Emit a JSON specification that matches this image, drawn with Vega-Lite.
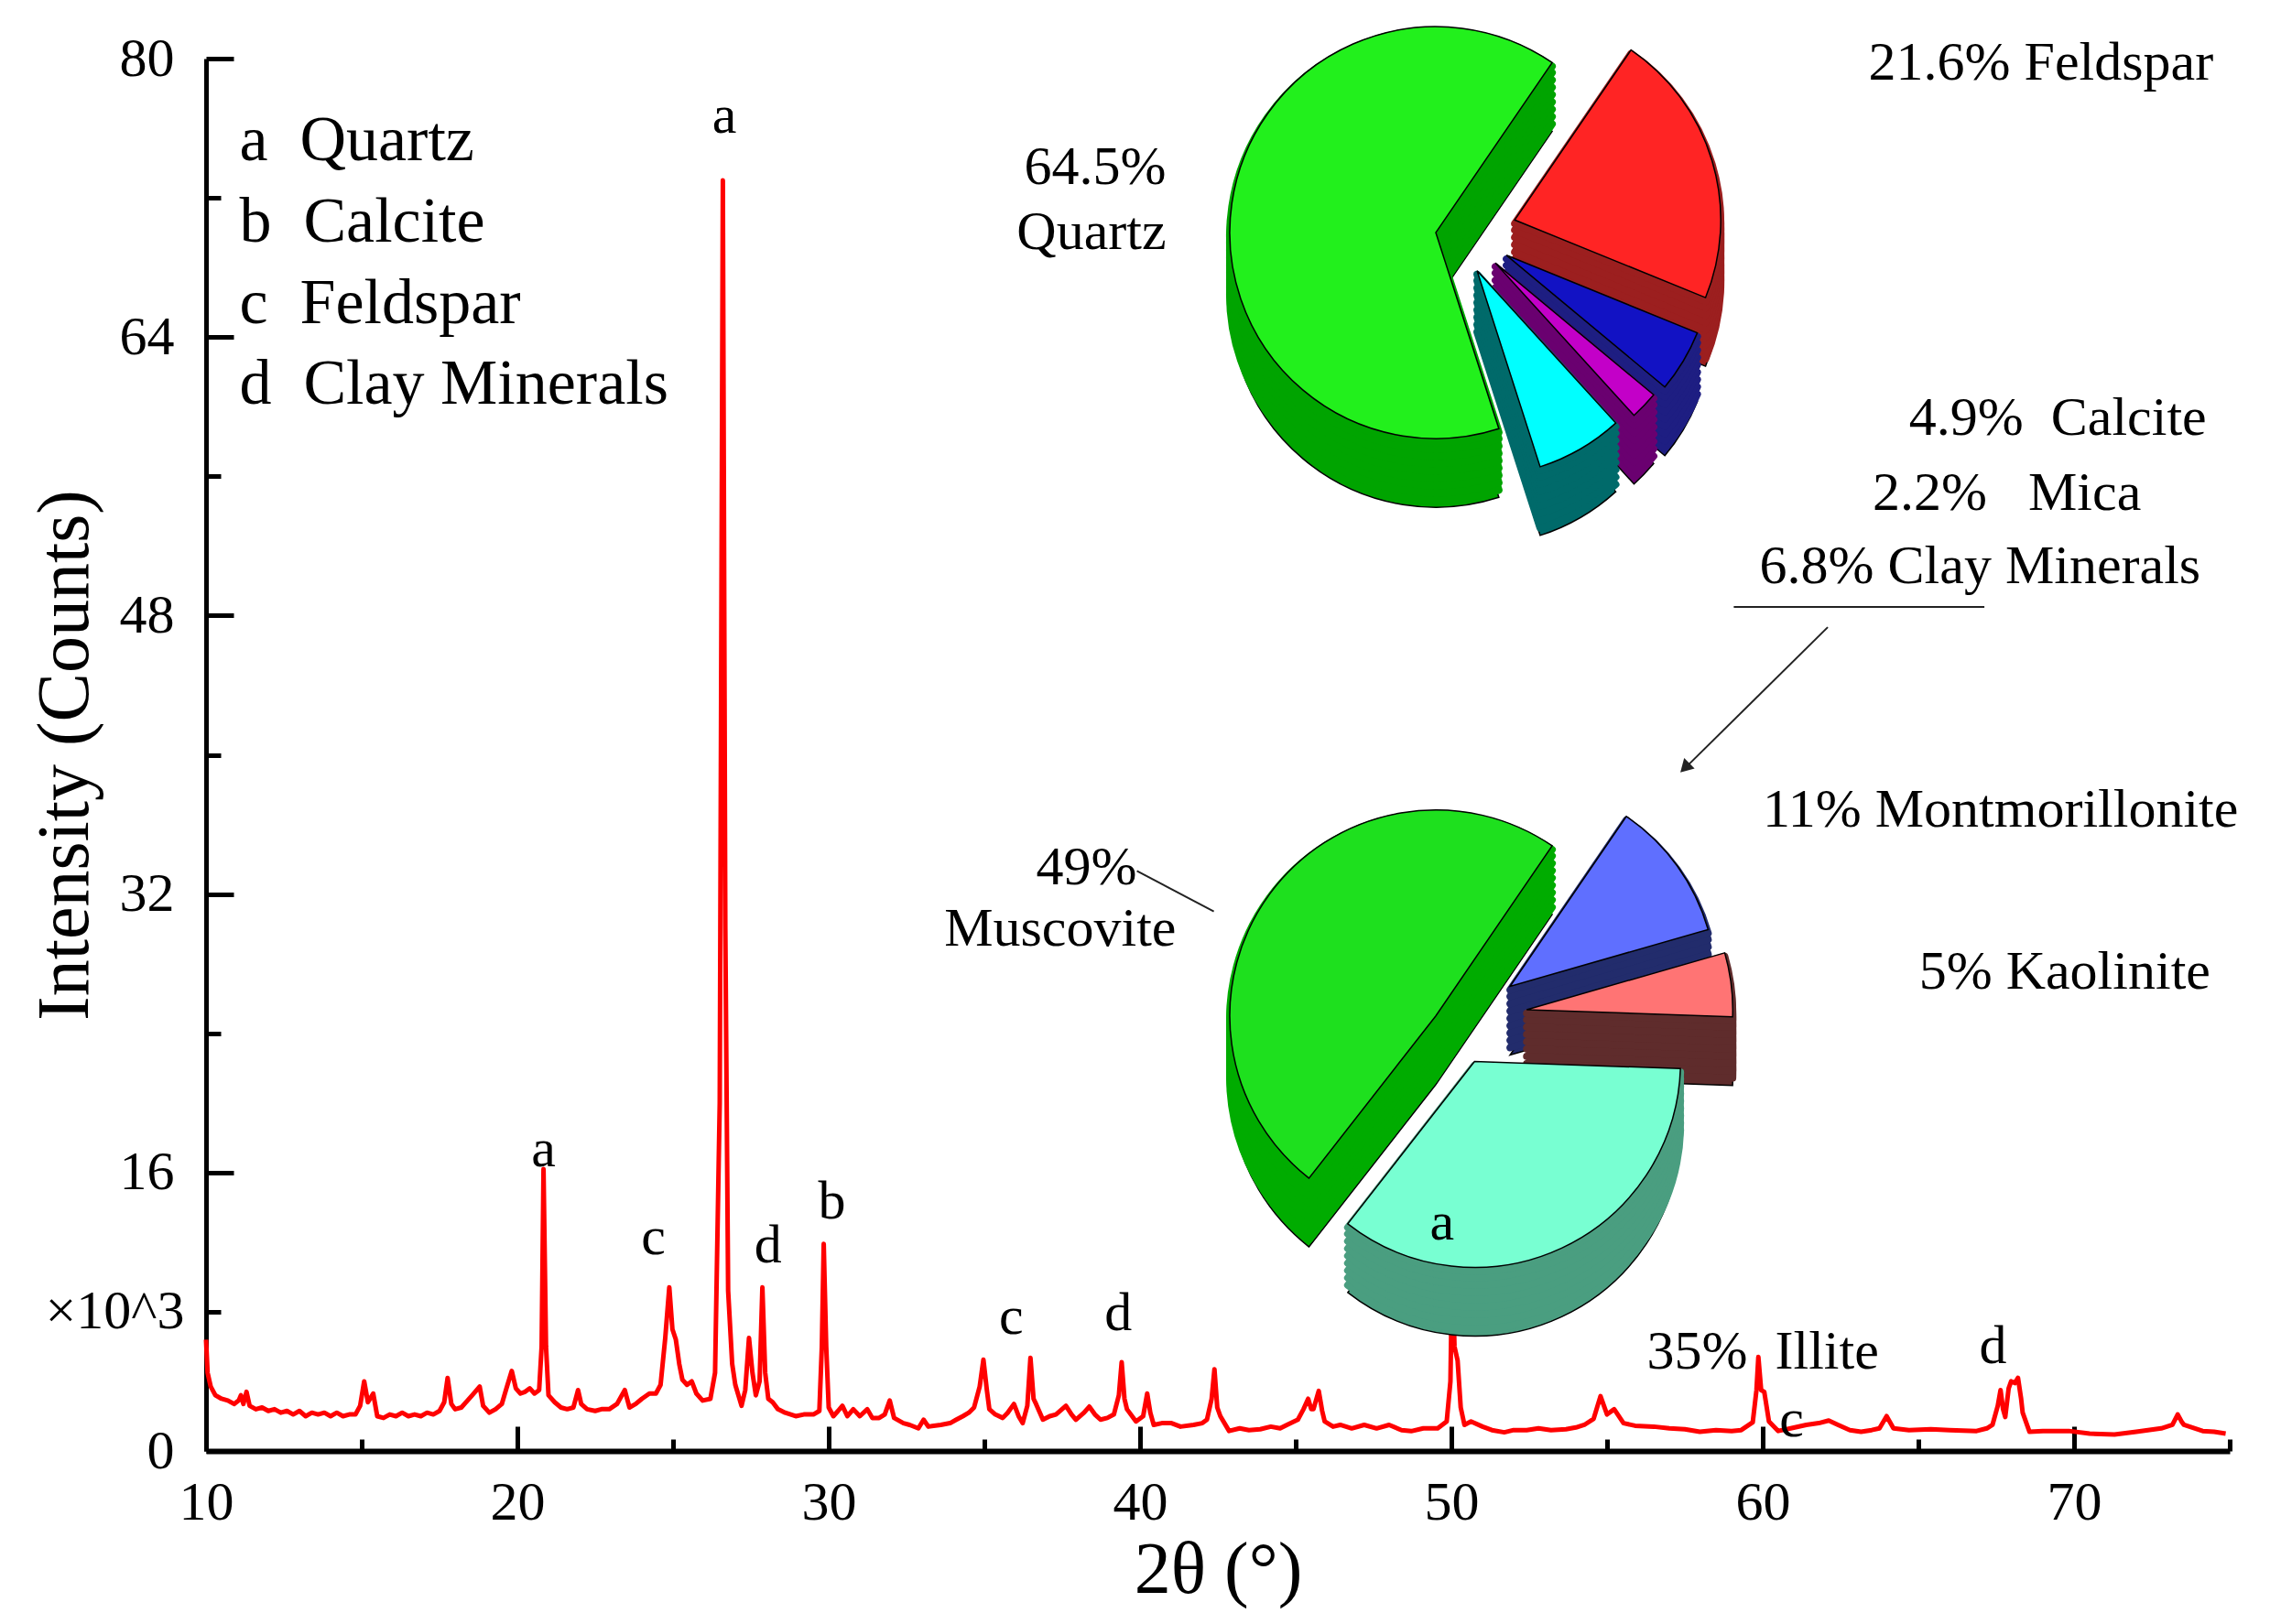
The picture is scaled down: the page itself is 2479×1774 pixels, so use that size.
{
  "$schema": "https://vega.github.io/schema/vega-lite/v6.json",
  "autosize": {"type": "none"},
  "padding": {"left": 225, "top": 64, "right": 44, "bottom": 189},
  "width": 2210,
  "height": 1521,
  "background": "white",
  "config": {
    "font": "Liberation Serif",
    "view": {"stroke": null},
    "text": {"font": "Liberation Serif", "color": "black"}
  },
  "datasets": {
    "spectrum": [
      {"two_theta": 10.0, "intensity": 6.4}, {"two_theta": 10.05, "intensity": 4.5}, {"two_theta": 10.15, "intensity": 3.7},
      {"two_theta": 10.3, "intensity": 3.2}, {"two_theta": 10.5, "intensity": 3.0}, {"two_theta": 10.7, "intensity": 2.9},
      {"two_theta": 10.9, "intensity": 2.7}, {"two_theta": 11.05, "intensity": 2.9}, {"two_theta": 11.12, "intensity": 3.2},
      {"two_theta": 11.2, "intensity": 2.7}, {"two_theta": 11.3, "intensity": 3.4}, {"two_theta": 11.4, "intensity": 2.6},
      {"two_theta": 11.6, "intensity": 2.4}, {"two_theta": 11.8, "intensity": 2.5}, {"two_theta": 12.0, "intensity": 2.3},
      {"two_theta": 12.2, "intensity": 2.4}, {"two_theta": 12.4, "intensity": 2.2}, {"two_theta": 12.6, "intensity": 2.3},
      {"two_theta": 12.8, "intensity": 2.1}, {"two_theta": 13.0, "intensity": 2.3}, {"two_theta": 13.2, "intensity": 2.0},
      {"two_theta": 13.4, "intensity": 2.2}, {"two_theta": 13.6, "intensity": 2.1}, {"two_theta": 13.8, "intensity": 2.2},
      {"two_theta": 14.0, "intensity": 2.0}, {"two_theta": 14.2, "intensity": 2.2}, {"two_theta": 14.4, "intensity": 2.0},
      {"two_theta": 14.6, "intensity": 2.1}, {"two_theta": 14.8, "intensity": 2.1}, {"two_theta": 14.95, "intensity": 2.6},
      {"two_theta": 15.08, "intensity": 4.0}, {"two_theta": 15.2, "intensity": 2.8}, {"two_theta": 15.37, "intensity": 3.3},
      {"two_theta": 15.5, "intensity": 2.0}, {"two_theta": 15.7, "intensity": 1.9}, {"two_theta": 15.9, "intensity": 2.1},
      {"two_theta": 16.1, "intensity": 2.0}, {"two_theta": 16.3, "intensity": 2.2}, {"two_theta": 16.5, "intensity": 2.0},
      {"two_theta": 16.7, "intensity": 2.1}, {"two_theta": 16.9, "intensity": 2.0}, {"two_theta": 17.1, "intensity": 2.2},
      {"two_theta": 17.3, "intensity": 2.1}, {"two_theta": 17.5, "intensity": 2.3}, {"two_theta": 17.65, "intensity": 2.8},
      {"two_theta": 17.76, "intensity": 4.2}, {"two_theta": 17.88, "intensity": 2.7}, {"two_theta": 18.0, "intensity": 2.4},
      {"two_theta": 18.2, "intensity": 2.5}, {"two_theta": 18.4, "intensity": 2.9}, {"two_theta": 18.55, "intensity": 3.2},
      {"two_theta": 18.79, "intensity": 3.7}, {"two_theta": 18.9, "intensity": 2.6}, {"two_theta": 19.1, "intensity": 2.2},
      {"two_theta": 19.3, "intensity": 2.4}, {"two_theta": 19.5, "intensity": 2.7}, {"two_theta": 19.65, "intensity": 3.6},
      {"two_theta": 19.82, "intensity": 4.6}, {"two_theta": 19.95, "intensity": 3.6}, {"two_theta": 20.1, "intensity": 3.3},
      {"two_theta": 20.25, "intensity": 3.4}, {"two_theta": 20.4, "intensity": 3.6}, {"two_theta": 20.55, "intensity": 3.3},
      {"two_theta": 20.7, "intensity": 3.5}, {"two_theta": 20.78, "intensity": 6.0}, {"two_theta": 20.84, "intensity": 16.2},
      {"two_theta": 20.92, "intensity": 6.0}, {"two_theta": 21.0, "intensity": 3.2}, {"two_theta": 21.2, "intensity": 2.8},
      {"two_theta": 21.4, "intensity": 2.5}, {"two_theta": 21.6, "intensity": 2.4}, {"two_theta": 21.8, "intensity": 2.5},
      {"two_theta": 21.95, "intensity": 3.5}, {"two_theta": 22.05, "intensity": 2.7}, {"two_theta": 22.24, "intensity": 2.4},
      {"two_theta": 22.5, "intensity": 2.3}, {"two_theta": 22.7, "intensity": 2.4}, {"two_theta": 22.95, "intensity": 2.4},
      {"two_theta": 23.2, "intensity": 2.7}, {"two_theta": 23.45, "intensity": 3.5}, {"two_theta": 23.6, "intensity": 2.5},
      {"two_theta": 23.8, "intensity": 2.7}, {"two_theta": 24.0, "intensity": 3.0}, {"two_theta": 24.24, "intensity": 3.3},
      {"two_theta": 24.45, "intensity": 3.3}, {"two_theta": 24.6, "intensity": 3.8}, {"two_theta": 24.75, "intensity": 6.5},
      {"two_theta": 24.88, "intensity": 9.4}, {"two_theta": 24.98, "intensity": 7.0}, {"two_theta": 25.09, "intensity": 6.4},
      {"two_theta": 25.2, "intensity": 5.0}, {"two_theta": 25.3, "intensity": 4.1}, {"two_theta": 25.45, "intensity": 3.8},
      {"two_theta": 25.6, "intensity": 4.0}, {"two_theta": 25.75, "intensity": 3.3}, {"two_theta": 25.95, "intensity": 2.9},
      {"two_theta": 26.2, "intensity": 3.0}, {"two_theta": 26.35, "intensity": 4.5}, {"two_theta": 26.5, "intensity": 20.0},
      {"two_theta": 26.6, "intensity": 73.0}, {"two_theta": 26.68, "intensity": 30.0}, {"two_theta": 26.77, "intensity": 9.2},
      {"two_theta": 26.9, "intensity": 5.0}, {"two_theta": 27.0, "intensity": 3.8}, {"two_theta": 27.2, "intensity": 2.6},
      {"two_theta": 27.32, "intensity": 3.5}, {"two_theta": 27.44, "intensity": 6.5}, {"two_theta": 27.55, "intensity": 4.5},
      {"two_theta": 27.66, "intensity": 3.2}, {"two_theta": 27.78, "intensity": 4.0}, {"two_theta": 27.87, "intensity": 9.4},
      {"two_theta": 27.96, "intensity": 4.5}, {"two_theta": 28.06, "intensity": 3.0}, {"two_theta": 28.2, "intensity": 2.8},
      {"two_theta": 28.37, "intensity": 2.4}, {"two_theta": 28.6, "intensity": 2.2}, {"two_theta": 28.94, "intensity": 2.0},
      {"two_theta": 29.2, "intensity": 2.1}, {"two_theta": 29.51, "intensity": 2.1}, {"two_theta": 29.7, "intensity": 2.3},
      {"two_theta": 29.78, "intensity": 6.0}, {"two_theta": 29.84, "intensity": 11.9}, {"two_theta": 29.92, "intensity": 6.0},
      {"two_theta": 30.0, "intensity": 2.5}, {"two_theta": 30.15, "intensity": 2.0}, {"two_theta": 30.3, "intensity": 2.3},
      {"two_theta": 30.44, "intensity": 2.6}, {"two_theta": 30.6, "intensity": 2.0}, {"two_theta": 30.79, "intensity": 2.4},
      {"two_theta": 31.0, "intensity": 2.0}, {"two_theta": 31.24, "intensity": 2.4}, {"two_theta": 31.4, "intensity": 1.9},
      {"two_theta": 31.62, "intensity": 1.9}, {"two_theta": 31.8, "intensity": 2.1}, {"two_theta": 31.96, "intensity": 2.9},
      {"two_theta": 32.1, "intensity": 1.9}, {"two_theta": 32.4, "intensity": 1.6}, {"two_theta": 32.6, "intensity": 1.5},
      {"two_theta": 32.88, "intensity": 1.3}, {"two_theta": 33.05, "intensity": 1.8}, {"two_theta": 33.2, "intensity": 1.4},
      {"two_theta": 33.6, "intensity": 1.5}, {"two_theta": 33.9, "intensity": 1.6}, {"two_theta": 34.1, "intensity": 1.8},
      {"two_theta": 34.31, "intensity": 2.0}, {"two_theta": 34.5, "intensity": 2.2}, {"two_theta": 34.67, "intensity": 2.5},
      {"two_theta": 34.85, "intensity": 3.7}, {"two_theta": 34.97, "intensity": 5.25}, {"two_theta": 35.08, "intensity": 3.5},
      {"two_theta": 35.16, "intensity": 2.4}, {"two_theta": 35.35, "intensity": 2.1}, {"two_theta": 35.59, "intensity": 1.9},
      {"two_theta": 35.75, "intensity": 2.2}, {"two_theta": 35.95, "intensity": 2.7}, {"two_theta": 36.1, "intensity": 2.0},
      {"two_theta": 36.23, "intensity": 1.6}, {"two_theta": 36.38, "intensity": 2.6}, {"two_theta": 36.48, "intensity": 5.35},
      {"two_theta": 36.58, "intensity": 3.0}, {"two_theta": 36.66, "intensity": 2.7}, {"two_theta": 36.88, "intensity": 1.8},
      {"two_theta": 37.1, "intensity": 2.0}, {"two_theta": 37.3, "intensity": 2.1}, {"two_theta": 37.62, "intensity": 2.6},
      {"two_theta": 37.8, "intensity": 2.1}, {"two_theta": 37.94, "intensity": 1.8}, {"two_theta": 38.2, "intensity": 2.2},
      {"two_theta": 38.37, "intensity": 2.55}, {"two_theta": 38.55, "intensity": 2.1}, {"two_theta": 38.73, "intensity": 1.8},
      {"two_theta": 38.95, "intensity": 1.9}, {"two_theta": 39.16, "intensity": 2.1}, {"two_theta": 39.32, "intensity": 3.2},
      {"two_theta": 39.41, "intensity": 5.1}, {"two_theta": 39.5, "intensity": 3.0}, {"two_theta": 39.58, "intensity": 2.4},
      {"two_theta": 39.87, "intensity": 1.7}, {"two_theta": 40.1, "intensity": 2.0}, {"two_theta": 40.23, "intensity": 3.3},
      {"two_theta": 40.33, "intensity": 2.2}, {"two_theta": 40.44, "intensity": 1.5}, {"two_theta": 40.7, "intensity": 1.6},
      {"two_theta": 41.01, "intensity": 1.6}, {"two_theta": 41.3, "intensity": 1.4}, {"two_theta": 41.72, "intensity": 1.5},
      {"two_theta": 42.0, "intensity": 1.6}, {"two_theta": 42.15, "intensity": 1.8}, {"two_theta": 42.3, "intensity": 3.0},
      {"two_theta": 42.39, "intensity": 4.7}, {"two_theta": 42.48, "intensity": 2.5}, {"two_theta": 42.58, "intensity": 2.0},
      {"two_theta": 42.86, "intensity": 1.15}, {"two_theta": 43.2, "intensity": 1.3}, {"two_theta": 43.5, "intensity": 1.2},
      {"two_theta": 43.86, "intensity": 1.25}, {"two_theta": 44.2, "intensity": 1.4}, {"two_theta": 44.5, "intensity": 1.3},
      {"two_theta": 44.72, "intensity": 1.5}, {"two_theta": 45.07, "intensity": 1.8}, {"two_theta": 45.25, "intensity": 2.4},
      {"two_theta": 45.4, "intensity": 3.0}, {"two_theta": 45.5, "intensity": 2.4}, {"two_theta": 45.57, "intensity": 2.4},
      {"two_theta": 45.74, "intensity": 3.45}, {"two_theta": 45.85, "intensity": 2.3}, {"two_theta": 45.93, "intensity": 1.7},
      {"two_theta": 46.2, "intensity": 1.4}, {"two_theta": 46.43, "intensity": 1.5}, {"two_theta": 46.8, "intensity": 1.3},
      {"two_theta": 47.2, "intensity": 1.5}, {"two_theta": 47.6, "intensity": 1.3}, {"two_theta": 48.0, "intensity": 1.5},
      {"two_theta": 48.4, "intensity": 1.2}, {"two_theta": 48.71, "intensity": 1.14}, {"two_theta": 49.1, "intensity": 1.3},
      {"two_theta": 49.56, "intensity": 1.3}, {"two_theta": 49.85, "intensity": 1.7}, {"two_theta": 49.97, "intensity": 4.0},
      {"two_theta": 50.03, "intensity": 11.0}, {"two_theta": 50.1, "intensity": 6.0}, {"two_theta": 50.2, "intensity": 5.2},
      {"two_theta": 50.3, "intensity": 2.5}, {"two_theta": 50.42, "intensity": 1.5}, {"two_theta": 50.63, "intensity": 1.7},
      {"two_theta": 51.0, "intensity": 1.4}, {"two_theta": 51.3, "intensity": 1.2}, {"two_theta": 51.7, "intensity": 1.07},
      {"two_theta": 52.0, "intensity": 1.2}, {"two_theta": 52.42, "intensity": 1.2}, {"two_theta": 52.8, "intensity": 1.3},
      {"two_theta": 53.2, "intensity": 1.2}, {"two_theta": 53.68, "intensity": 1.25}, {"two_theta": 54.0, "intensity": 1.35},
      {"two_theta": 54.27, "intensity": 1.5}, {"two_theta": 54.57, "intensity": 1.85}, {"two_theta": 54.79, "intensity": 3.15},
      {"two_theta": 54.9, "intensity": 2.6}, {"two_theta": 55.0, "intensity": 2.1}, {"two_theta": 55.23, "intensity": 2.4},
      {"two_theta": 55.53, "intensity": 1.6}, {"two_theta": 55.9, "intensity": 1.45}, {"two_theta": 56.5, "intensity": 1.4},
      {"two_theta": 57.0, "intensity": 1.3}, {"two_theta": 57.5, "intensity": 1.25}, {"two_theta": 57.98, "intensity": 1.1},
      {"two_theta": 58.5, "intensity": 1.2}, {"two_theta": 59.0, "intensity": 1.15}, {"two_theta": 59.31, "intensity": 1.2},
      {"two_theta": 59.68, "intensity": 1.65}, {"two_theta": 59.8, "intensity": 3.5}, {"two_theta": 59.86, "intensity": 5.4},
      {"two_theta": 59.95, "intensity": 3.5}, {"two_theta": 60.05, "intensity": 3.4}, {"two_theta": 60.2, "intensity": 1.7},
      {"two_theta": 60.5, "intensity": 1.15}, {"two_theta": 60.9, "intensity": 1.3}, {"two_theta": 61.4, "intensity": 1.5},
      {"two_theta": 61.8, "intensity": 1.6}, {"two_theta": 62.12, "intensity": 1.75}, {"two_theta": 62.42, "intensity": 1.5},
      {"two_theta": 62.8, "intensity": 1.2}, {"two_theta": 63.16, "intensity": 1.1}, {"two_theta": 63.5, "intensity": 1.2},
      {"two_theta": 63.75, "intensity": 1.3}, {"two_theta": 63.98, "intensity": 2.0}, {"two_theta": 64.2, "intensity": 1.3},
      {"two_theta": 64.7, "intensity": 1.2}, {"two_theta": 65.4, "intensity": 1.25}, {"two_theta": 66.0, "intensity": 1.2},
      {"two_theta": 66.87, "intensity": 1.15}, {"two_theta": 67.2, "intensity": 1.3}, {"two_theta": 67.38, "intensity": 1.5},
      {"two_theta": 67.55, "intensity": 2.6}, {"two_theta": 67.64, "intensity": 3.5}, {"two_theta": 67.72, "intensity": 2.4},
      {"two_theta": 67.79, "intensity": 1.95}, {"two_theta": 67.9, "intensity": 3.6}, {"two_theta": 67.98, "intensity": 4.0},
      {"two_theta": 68.1, "intensity": 3.9}, {"two_theta": 68.2, "intensity": 4.2}, {"two_theta": 68.3, "intensity": 3.0},
      {"two_theta": 68.35, "intensity": 2.2}, {"two_theta": 68.57, "intensity": 1.1}, {"two_theta": 69.0, "intensity": 1.15},
      {"two_theta": 69.83, "intensity": 1.15}, {"two_theta": 70.5, "intensity": 1.0}, {"two_theta": 71.3, "intensity": 0.95},
      {"two_theta": 72.0, "intensity": 1.1}, {"two_theta": 72.8, "intensity": 1.3}, {"two_theta": 73.16, "intensity": 1.5},
      {"two_theta": 73.33, "intensity": 2.1}, {"two_theta": 73.45, "intensity": 1.7}, {"two_theta": 73.53, "intensity": 1.5},
      {"two_theta": 74.13, "intensity": 1.15}, {"two_theta": 74.5, "intensity": 1.1}, {"two_theta": 74.87, "intensity": 1.0}
    ],
    "peaks": [
      {"x": 26.65, "y": 76.7, "label": "a"},
      {"x": 20.84, "y": 17.3, "label": "a"},
      {"x": 24.37, "y": 12.25, "label": "c"},
      {"x": 28.05, "y": 11.8, "label": "d"},
      {"x": 30.1, "y": 14.3, "label": "b"},
      {"x": 35.86, "y": 7.7, "label": "c"},
      {"x": 39.3, "y": 7.9, "label": "d"},
      {"x": 49.7, "y": 13.1, "label": "a"},
      {"x": 60.93, "y": 1.8, "label": "c"},
      {"x": 67.4, "y": 6.0, "label": "d"}
    ],
    "legend": [
      {"x": 11.07, "y": 75.25, "label": "a \u00a0Quartz"},
      {"x": 11.07, "y": 70.58, "label": "b \u00a0Calcite"},
      {"x": 11.07, "y": 65.92, "label": "c \u00a0Feldspar"},
      {"x": 11.07, "y": 61.25, "label": "d \u00a0Clay Minerals"}
    ],
    "pies": [
      {"pie": "upper", "mineral": "Feldspar", "pct": 21.6, "rank": 1},
      {"pie": "upper", "mineral": "Calcite", "pct": 4.9, "rank": 2},
      {"pie": "upper", "mineral": "Mica", "pct": 2.2, "rank": 3},
      {"pie": "upper", "mineral": "Clay Minerals", "pct": 6.8, "rank": 4},
      {"pie": "upper", "mineral": "Quartz", "pct": 64.5, "rank": 5},
      {"pie": "lower", "mineral": "Montmorillonite", "pct": 11, "rank": 1},
      {"pie": "lower", "mineral": "Kaolinite", "pct": 5, "rank": 2},
      {"pie": "lower", "mineral": "Illite", "pct": 35, "rank": 3},
      {"pie": "lower", "mineral": "Muscovite", "pct": 49, "rank": 4}
    ],
    "pie_labels_left": [
      {"x": 40.84, "y": 73.75, "label": "64.5%"},
      {"x": 40.84, "y": 70.0, "label": "Quartz"},
      {"x": 39.9, "y": 33.5, "label": "49%"},
      {"x": 41.16, "y": 30.0, "label": "Muscovite"}
    ],
    "pie_labels_right": [
      {"x": 63.4, "y": 79.75, "label": "21.6% Feldspar"},
      {"x": 64.7, "y": 59.33, "label": "4.9% \u00a0Calcite"},
      {"x": 63.53, "y": 55.0, "label": "2.2% \u00a0 Mica"},
      {"x": 59.9, "y": 50.83, "label": "6.8% Clay Minerals"},
      {"x": 60.0, "y": 36.83, "label": "11% Montmorillonite"},
      {"x": 65.02, "y": 27.5, "label": "5% Kaolinite"},
      {"x": 56.28, "y": 5.67, "label": "35% \u00a0Illite"}
    ],
    "leaders": [
      {"x": 59.07, "x2": 67.12, "y": 48.5, "y2": 48.5},
      {"x": 62.09, "x2": 57.6, "y": 47.33, "y2": 39.4},
      {"x": 39.9, "x2": 42.37, "y": 33.33, "y2": 31.0}
    ],
    "arrow_tip": [
      {"x": 57.5, "y": 39.25}
    ]
  },
  "layer": [
    {
      "data": {"name": "spectrum"},
      "mark": {"type": "line", "color": "#ff0000", "strokeWidth": 5, "strokeJoin": "round"},
      "encoding": {
        "x": {
          "field": "two_theta", "type": "quantitative",
          "scale": {"domain": [10, 75], "nice": false, "zero": false},
          "title": "2θ (°)",
          "axis": {
            "values": [10, 15, 20, 25, 30, 35, 40, 45, 50, 55, 60, 65, 70, 75],
            "labelExpr": "datum.value % 10 === 0 ? datum.label : ''",
            "grid": false,
            "domainColor": "black", "domainWidth": 6,
            "tickColor": "black", "tickWidth": 5,
            "tickSize": {"condition": {"test": "datum.value % 10 === 0", "value": -27}, "value": -13},
            "labelPadding": 54,
            "labelFont": "Liberation Serif", "labelFontSize": 60, "labelColor": "black",
            "labelFlush": false, "labelOverlap": false, "labelBound": false,
            "titleFont": "Liberation Serif", "titleFontSize": 80, "titleFontWeight": "normal",
            "titleColor": "black", "titleBaseline": "middle", "titleY": 130
          }
        },
        "y": {
          "field": "intensity", "type": "quantitative",
          "scale": {"domain": [0, 80], "nice": false},
          "title": "Intensity (Counts)",
          "axis": {
            "values": [0, 8, 16, 24, 32, 40, 48, 56, 64, 72, 80],
            "labelExpr": "datum.value === 8 ? '×10^3' : (datum.value % 16 === 0 ? datum.label : '')",
            "grid": false,
            "domainColor": "black", "domainWidth": 5,
            "tickColor": "black", "tickWidth": 5,
            "tickSize": {"condition": {"test": "datum.value % 16 === 0", "value": -30}, "value": -16},
            "labelPadding": {"condition": {"test": "datum.value === 8", "value": 40}, "value": 65},
            "labelFont": "Liberation Serif", "labelFontSize": 60, "labelColor": "black",
            "labelFlush": false, "labelOverlap": false, "labelBound": false,
            "titleFont": "Liberation Serif", "titleFontSize": 80, "titleFontWeight": "normal",
            "titleColor": "black", "titleBaseline": "middle", "titleX": -154
          }
        }
      }
    },
    {
      "data": {"name": "pies"},
      "transform": [
        {"filter": "datum.pie === 'upper'"},
        {"stack": "pct", "groupby": ["pie"], "sort": [{"field": "rank", "order": "ascending"}], "as": ["start", "end"]}
      ],
      "encoding": {
        "theta": {"field": "start", "type": "quantitative", "scale": {"domain": [0, 100], "range": [0.6, 6.8832]}},
        "theta2": {"field": "end"},
        "x": {"datum": 49.5, "type": "quantitative"},
        "y": {"datum": 70, "type": "quantitative"}
      },
      "layer": [
        {
          "encoding": {"fill": {"field": "mineral", "type": "nominal", "legend": null,
            "scale": {"domain": ["Quartz", "Feldspar", "Calcite", "Mica", "Clay Minerals", "Muscovite", "Montmorillonite", "Kaolinite", "Illite"],
                      "range": ["#00a400", "#9c1f1f", "#1e1e82", "#6a0070", "#006a6a", "#00ac00", "#222c6c", "#5f2c2c", "#4a9e80"]}}},
          "layer": [
            {"mark": {"type": "arc", "radius": 225, "stroke": "black", "strokeWidth": 1.5, "xOffset": {"expr": "(datum.mineral === 'Quartz' ? 0 : 90) * sin(0.6 + PI * (datum.start + datum.end) / 100)"}, "yOffset": {"expr": "75 - (datum.mineral === 'Quartz' ? 0 : 48) * cos(0.6 + PI * (datum.start + datum.end) / 100)"}}},
            {
              "encoding": {"stroke": {"field": "mineral", "type": "nominal", "legend": null,
                "scale": {"domain": ["Quartz", "Feldspar", "Calcite", "Mica", "Clay Minerals", "Muscovite", "Montmorillonite", "Kaolinite", "Illite"],
                          "range": ["#00a400", "#9c1f1f", "#1e1e82", "#6a0070", "#006a6a", "#00ac00", "#222c6c", "#5f2c2c", "#4a9e80"]}}},
              "layer": [
                {"mark": {"type": "arc", "radius": 225, "strokeWidth": 8, "strokeJoin": "round", "xOffset": {"expr": "(datum.mineral === 'Quartz' ? 0 : 90) * sin(0.6 + PI * (datum.start + datum.end) / 100)"}, "yOffset": {"expr": "67 - (datum.mineral === 'Quartz' ? 0 : 48) * cos(0.6 + PI * (datum.start + datum.end) / 100)"}}},
                {"mark": {"type": "arc", "radius": 225, "strokeWidth": 8, "strokeJoin": "round", "xOffset": {"expr": "(datum.mineral === 'Quartz' ? 0 : 90) * sin(0.6 + PI * (datum.start + datum.end) / 100)"}, "yOffset": {"expr": "59 - (datum.mineral === 'Quartz' ? 0 : 48) * cos(0.6 + PI * (datum.start + datum.end) / 100)"}}},
                {"mark": {"type": "arc", "radius": 225, "strokeWidth": 8, "strokeJoin": "round", "xOffset": {"expr": "(datum.mineral === 'Quartz' ? 0 : 90) * sin(0.6 + PI * (datum.start + datum.end) / 100)"}, "yOffset": {"expr": "51 - (datum.mineral === 'Quartz' ? 0 : 48) * cos(0.6 + PI * (datum.start + datum.end) / 100)"}}},
                {"mark": {"type": "arc", "radius": 225, "strokeWidth": 8, "strokeJoin": "round", "xOffset": {"expr": "(datum.mineral === 'Quartz' ? 0 : 90) * sin(0.6 + PI * (datum.start + datum.end) / 100)"}, "yOffset": {"expr": "43 - (datum.mineral === 'Quartz' ? 0 : 48) * cos(0.6 + PI * (datum.start + datum.end) / 100)"}}},
                {"mark": {"type": "arc", "radius": 225, "strokeWidth": 8, "strokeJoin": "round", "xOffset": {"expr": "(datum.mineral === 'Quartz' ? 0 : 90) * sin(0.6 + PI * (datum.start + datum.end) / 100)"}, "yOffset": {"expr": "35 - (datum.mineral === 'Quartz' ? 0 : 48) * cos(0.6 + PI * (datum.start + datum.end) / 100)"}}},
                {"mark": {"type": "arc", "radius": 225, "strokeWidth": 8, "strokeJoin": "round", "xOffset": {"expr": "(datum.mineral === 'Quartz' ? 0 : 90) * sin(0.6 + PI * (datum.start + datum.end) / 100)"}, "yOffset": {"expr": "27 - (datum.mineral === 'Quartz' ? 0 : 48) * cos(0.6 + PI * (datum.start + datum.end) / 100)"}}},
                {"mark": {"type": "arc", "radius": 225, "strokeWidth": 8, "strokeJoin": "round", "xOffset": {"expr": "(datum.mineral === 'Quartz' ? 0 : 90) * sin(0.6 + PI * (datum.start + datum.end) / 100)"}, "yOffset": {"expr": "19 - (datum.mineral === 'Quartz' ? 0 : 48) * cos(0.6 + PI * (datum.start + datum.end) / 100)"}}},
                {"mark": {"type": "arc", "radius": 225, "strokeWidth": 8, "strokeJoin": "round", "xOffset": {"expr": "(datum.mineral === 'Quartz' ? 0 : 90) * sin(0.6 + PI * (datum.start + datum.end) / 100)"}, "yOffset": {"expr": "11 - (datum.mineral === 'Quartz' ? 0 : 48) * cos(0.6 + PI * (datum.start + datum.end) / 100)"}}},
                {"mark": {"type": "arc", "radius": 225, "strokeWidth": 8, "strokeJoin": "round", "xOffset": {"expr": "(datum.mineral === 'Quartz' ? 0 : 90) * sin(0.6 + PI * (datum.start + datum.end) / 100)"}, "yOffset": {"expr": "4 - (datum.mineral === 'Quartz' ? 0 : 48) * cos(0.6 + PI * (datum.start + datum.end) / 100)"}}}
              ]
            }
          ]
        },
        {"mark": {"type": "arc", "radius": 225, "stroke": "black", "strokeWidth": 1.5, "xOffset": {"expr": "(datum.mineral === 'Quartz' ? 0 : 90) * sin(0.6 + PI * (datum.start + datum.end) / 100)"}, "yOffset": {"expr": "0 - (datum.mineral === 'Quartz' ? 0 : 48) * cos(0.6 + PI * (datum.start + datum.end) / 100)"}},
         "encoding": {"color": {"field": "mineral", "type": "nominal", "legend": null,
           "scale": {"domain": ["Quartz", "Feldspar", "Calcite", "Mica", "Clay Minerals", "Muscovite", "Montmorillonite", "Kaolinite", "Illite"],
                     "range": ["#22f01c", "#ff2424", "#1212c4", "#c300c8", "#00ffff", "#1ee01e", "#5f6fff", "#ff7474", "#78ffd2"]}}}}
      ]
    },
    {
      "data": {"name": "pies"},
      "transform": [
        {"filter": "datum.pie === 'lower'"},
        {"stack": "pct", "groupby": ["pie"], "sort": [{"field": "rank", "order": "ascending"}], "as": ["start", "end"]}
      ],
      "encoding": {
        "theta": {"field": "start", "type": "quantitative", "scale": {"domain": [0, 100], "range": [0.6, 6.8832]}},
        "theta2": {"field": "end"},
        "x": {"datum": 49.5, "type": "quantitative"},
        "y": {"datum": 25, "type": "quantitative"}
      },
      "layer": [
        {
          "encoding": {"fill": {"field": "mineral", "type": "nominal", "legend": null}},
          "layer": [
            {"mark": {"type": "arc", "radius": 225, "stroke": "black", "strokeWidth": 1.5, "xOffset": {"expr": "(datum.mineral === 'Muscovite' ? 0 : 100) * sin(0.6 + PI * (datum.start + datum.end) / 100)"}, "yOffset": {"expr": "75 - (datum.mineral === 'Muscovite' ? 0 : 55) * cos(0.6 + PI * (datum.start + datum.end) / 100)"}}},
            {
              "encoding": {"stroke": {"field": "mineral", "type": "nominal", "legend": null}},
              "layer": [
                {"mark": {"type": "arc", "radius": 225, "strokeWidth": 8, "strokeJoin": "round", "xOffset": {"expr": "(datum.mineral === 'Muscovite' ? 0 : 100) * sin(0.6 + PI * (datum.start + datum.end) / 100)"}, "yOffset": {"expr": "67 - (datum.mineral === 'Muscovite' ? 0 : 55) * cos(0.6 + PI * (datum.start + datum.end) / 100)"}}},
                {"mark": {"type": "arc", "radius": 225, "strokeWidth": 8, "strokeJoin": "round", "xOffset": {"expr": "(datum.mineral === 'Muscovite' ? 0 : 100) * sin(0.6 + PI * (datum.start + datum.end) / 100)"}, "yOffset": {"expr": "59 - (datum.mineral === 'Muscovite' ? 0 : 55) * cos(0.6 + PI * (datum.start + datum.end) / 100)"}}},
                {"mark": {"type": "arc", "radius": 225, "strokeWidth": 8, "strokeJoin": "round", "xOffset": {"expr": "(datum.mineral === 'Muscovite' ? 0 : 100) * sin(0.6 + PI * (datum.start + datum.end) / 100)"}, "yOffset": {"expr": "51 - (datum.mineral === 'Muscovite' ? 0 : 55) * cos(0.6 + PI * (datum.start + datum.end) / 100)"}}},
                {"mark": {"type": "arc", "radius": 225, "strokeWidth": 8, "strokeJoin": "round", "xOffset": {"expr": "(datum.mineral === 'Muscovite' ? 0 : 100) * sin(0.6 + PI * (datum.start + datum.end) / 100)"}, "yOffset": {"expr": "43 - (datum.mineral === 'Muscovite' ? 0 : 55) * cos(0.6 + PI * (datum.start + datum.end) / 100)"}}},
                {"mark": {"type": "arc", "radius": 225, "strokeWidth": 8, "strokeJoin": "round", "xOffset": {"expr": "(datum.mineral === 'Muscovite' ? 0 : 100) * sin(0.6 + PI * (datum.start + datum.end) / 100)"}, "yOffset": {"expr": "35 - (datum.mineral === 'Muscovite' ? 0 : 55) * cos(0.6 + PI * (datum.start + datum.end) / 100)"}}},
                {"mark": {"type": "arc", "radius": 225, "strokeWidth": 8, "strokeJoin": "round", "xOffset": {"expr": "(datum.mineral === 'Muscovite' ? 0 : 100) * sin(0.6 + PI * (datum.start + datum.end) / 100)"}, "yOffset": {"expr": "27 - (datum.mineral === 'Muscovite' ? 0 : 55) * cos(0.6 + PI * (datum.start + datum.end) / 100)"}}},
                {"mark": {"type": "arc", "radius": 225, "strokeWidth": 8, "strokeJoin": "round", "xOffset": {"expr": "(datum.mineral === 'Muscovite' ? 0 : 100) * sin(0.6 + PI * (datum.start + datum.end) / 100)"}, "yOffset": {"expr": "19 - (datum.mineral === 'Muscovite' ? 0 : 55) * cos(0.6 + PI * (datum.start + datum.end) / 100)"}}},
                {"mark": {"type": "arc", "radius": 225, "strokeWidth": 8, "strokeJoin": "round", "xOffset": {"expr": "(datum.mineral === 'Muscovite' ? 0 : 100) * sin(0.6 + PI * (datum.start + datum.end) / 100)"}, "yOffset": {"expr": "11 - (datum.mineral === 'Muscovite' ? 0 : 55) * cos(0.6 + PI * (datum.start + datum.end) / 100)"}}},
                {"mark": {"type": "arc", "radius": 225, "strokeWidth": 8, "strokeJoin": "round", "xOffset": {"expr": "(datum.mineral === 'Muscovite' ? 0 : 100) * sin(0.6 + PI * (datum.start + datum.end) / 100)"}, "yOffset": {"expr": "4 - (datum.mineral === 'Muscovite' ? 0 : 55) * cos(0.6 + PI * (datum.start + datum.end) / 100)"}}}
              ]
            }
          ]
        },
        {"mark": {"type": "arc", "radius": 225, "stroke": "black", "strokeWidth": 1.5, "xOffset": {"expr": "(datum.mineral === 'Muscovite' ? 0 : 100) * sin(0.6 + PI * (datum.start + datum.end) / 100)"}, "yOffset": {"expr": "0 - (datum.mineral === 'Muscovite' ? 0 : 55) * cos(0.6 + PI * (datum.start + datum.end) / 100)"}},
         "encoding": {"color": {"field": "mineral", "type": "nominal", "legend": null}}}
      ]
    },
    {
      "data": {"name": "peaks"},
      "mark": {"type": "text", "fontSize": 60, "align": "center", "baseline": "middle"},
      "encoding": {
        "x": {"field": "x", "type": "quantitative"},
        "y": {"field": "y", "type": "quantitative"},
        "text": {"field": "label"}
      }
    },
    {
      "data": {"name": "legend"},
      "mark": {"type": "text", "fontSize": 70, "align": "left", "baseline": "middle"},
      "encoding": {
        "x": {"field": "x", "type": "quantitative"},
        "y": {"field": "y", "type": "quantitative"},
        "text": {"field": "label"}
      }
    },
    {
      "data": {"name": "pie_labels_left"},
      "mark": {"type": "text", "fontSize": 60, "align": "right", "baseline": "middle"},
      "encoding": {
        "x": {"field": "x", "type": "quantitative"},
        "y": {"field": "y", "type": "quantitative"},
        "text": {"field": "label"}
      }
    },
    {
      "data": {"name": "pie_labels_right"},
      "mark": {"type": "text", "fontSize": 60, "align": "left", "baseline": "middle"},
      "encoding": {
        "x": {"field": "x", "type": "quantitative"},
        "y": {"field": "y", "type": "quantitative"},
        "text": {"field": "label"}
      }
    },
    {
      "data": {"name": "leaders"},
      "mark": {"type": "rule", "color": "#222222", "strokeWidth": 2},
      "encoding": {
        "x": {"field": "x", "type": "quantitative"},
        "x2": {"field": "x2"},
        "y": {"field": "y", "type": "quantitative"},
        "y2": {"field": "y2"}
      }
    },
    {
      "data": {"name": "arrow_tip"},
      "mark": {"type": "point", "shape": "triangle-up", "angle": 225, "filled": true, "size": 260, "color": "#222222", "opacity": 1},
      "encoding": {
        "x": {"field": "x", "type": "quantitative"},
        "y": {"field": "y", "type": "quantitative"}
      }
    }
  ]
}
